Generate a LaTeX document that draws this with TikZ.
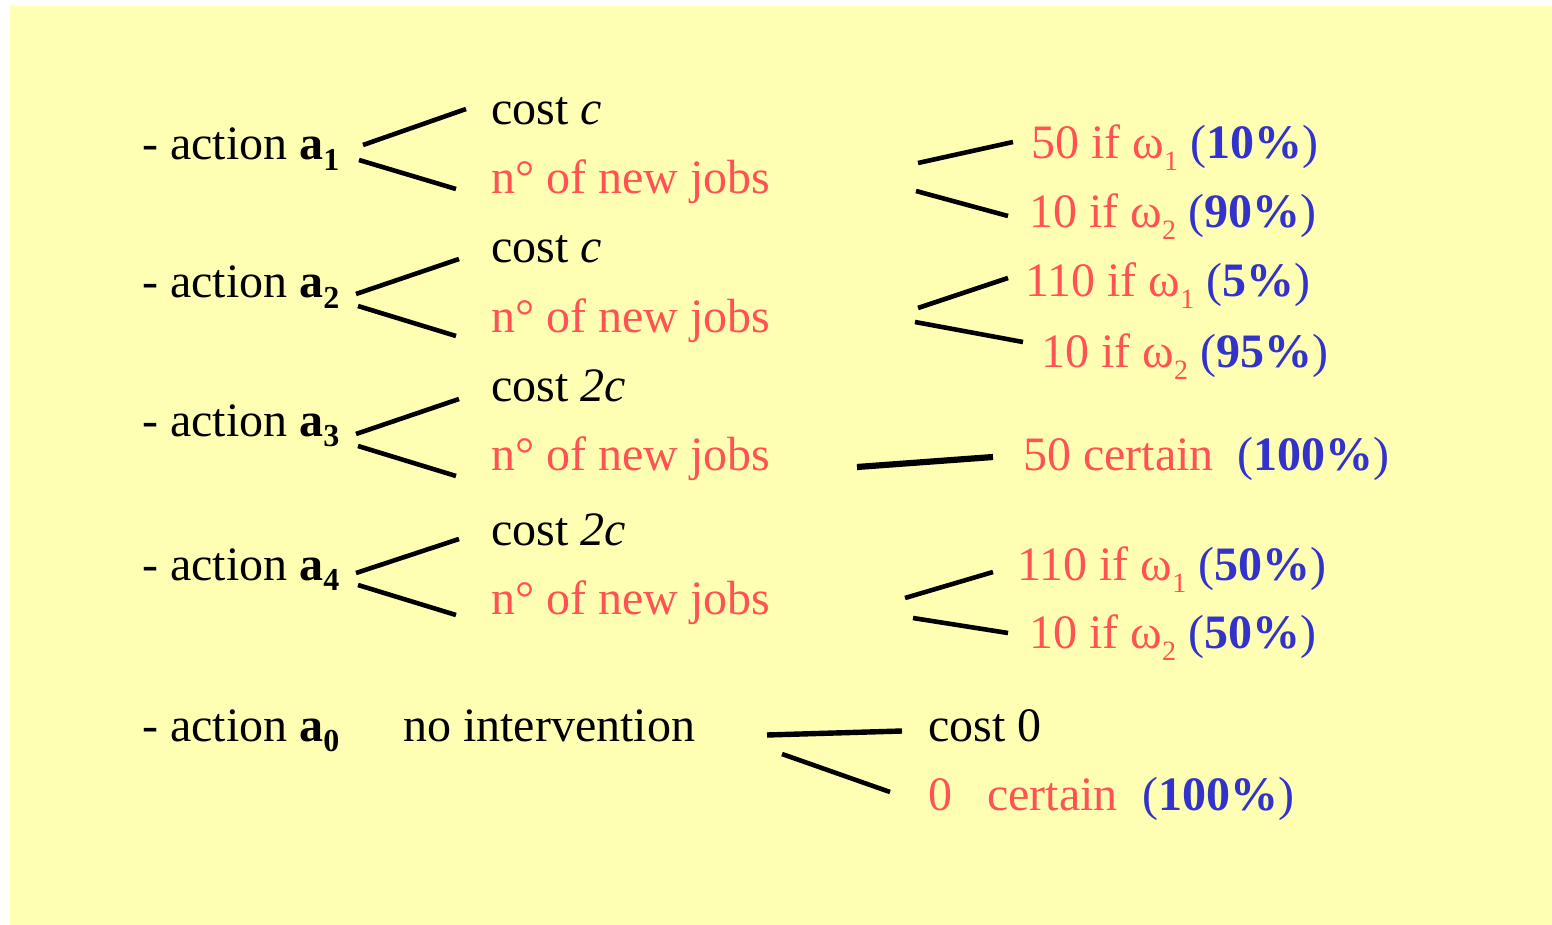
\documentclass[tikz,border=0pt]{standalone}
\usepackage{fontspec}
\setmainfont{Liberation Serif}
\definecolor{bg}{RGB}{255,255,180}
\definecolor{redtxt}{RGB}{255,82,82}
\definecolor{bluetxt}{RGB}{51,51,204}
\newcommand{\bsub}[1]{\raisebox{-0.22em}{\fontsize{32}{32}\selectfont\bfseries #1}}
\newcommand{\om}[1]{ω\raisebox{-0.25em}{\fontsize{28}{28}\selectfont #1}}
\newcommand{\pct}[1]{{\color{bluetxt}(\textbf{#1\%})}}
\tikzset{
  txt/.style={anchor=base west, inner sep=0pt, font=\fontsize{48}{48}\selectfont},
  red/.style={txt, text=redtxt},
  branch/.style={line width=4.6pt, black},
}
\begin{document}
\begin{tikzpicture}[x=1pt, y=-1pt]
\useasboundingbox (0,0) rectangle (1552,925);
\fill[bg] (10,6) rectangle (1552,925);

% action labels
\node[txt] (act1) at (142,160) {- action \textbf{a}\bsub{1}};
\node[txt] (act2) at (142,298) {- action \textbf{a}\bsub{2}};
\node[txt] (act3) at (142,436) {- action \textbf{a}\bsub{3}};
\node[txt] (act4) at (142,580) {- action \textbf{a}\bsub{4}};
\node[txt] (act0) at (142,741) {- action \textbf{a}\bsub{0}};
\node[txt] (noint) at (403,741) {no intervention};

% cost / jobs
\node[txt] (cost1) at (491,125) {cost \textit{c}};
\node[red] (jobs1) at (491,194) {n° of new jobs};
\node[txt] (cost2) at (491,263) {cost \textit{c}};
\node[red] (jobs2) at (491,332) {n° of new jobs};
\node[txt] (cost3) at (491,401) {cost \textit{2c}};
\node[red] (jobs3) at (491,470) {n° of new jobs};
\node[txt] (cost4) at (491,545) {cost \textit{2c}};
\node[red] (jobs4) at (491,614) {n° of new jobs};

% outcomes
\node[red] (o11) at (1031,159) {50 if \om{1} \pct{10}};
\node[red] (o12) at (1029,228) {10 if \om{2} \pct{90}};
\node[red] (o21) at (1025,297) {110 if \om{1} \pct{5}};
\node[red] (o22) at (1041,367) {10 if \om{2} \pct{95}};
\node[red] (o31) at (1023,470) {50 certain\hspace{24pt}\pct{100}};
\node[red] (o41) at (1017,580) {110 if \om{1} \pct{50}};
\node[red] (o42) at (1029,648) {10 if \om{2} \pct{50}};
\node[txt] (cost0) at (928,741) {cost 0};
\node[red] (o01) at (928,810) {0\hspace{35pt}certain\hspace{25pt}\pct{100}};

% branch end points
\coordinate (a1s) at (363,145); \coordinate (a1t) at (466,109);
\coordinate (a1u) at (359,160); \coordinate (a1b) at (456,189);
\coordinate (a2s) at (356,294); \coordinate (a2t) at (459,259);
\coordinate (a2u) at (358,306); \coordinate (a2b) at (456,336);
\coordinate (a3s) at (356,434); \coordinate (a3t) at (459,399);
\coordinate (a3u) at (358,446); \coordinate (a3b) at (456,476);
\coordinate (a4s) at (356,573); \coordinate (a4t) at (459,539);
\coordinate (a4u) at (358,585); \coordinate (a4b) at (456,615);

\coordinate (j1s) at (918,163); \coordinate (j1t) at (1013,142);
\coordinate (j1u) at (916,191); \coordinate (j1b) at (1008,216);
\coordinate (j2s) at (918,308); \coordinate (j2t) at (1008,278);
\coordinate (j2u) at (915,322); \coordinate (j2b) at (1023,342);
\coordinate (j3s) at (857,467); \coordinate (j3t) at (993,457);
\coordinate (j4s) at (905,598); \coordinate (j4t) at (993,572);
\coordinate (j4u) at (913,618); \coordinate (j4b) at (1008,633);
\coordinate (n0s) at (767,735); \coordinate (n0t) at (902,731);
\coordinate (n0u) at (782,754); \coordinate (n0b) at (890,792);

% branches
\draw[branch] (a1s) -- (a1t); \draw[branch] (a1u) -- (a1b);
\draw[branch] (a2s) -- (a2t); \draw[branch] (a2u) -- (a2b);
\draw[branch] (a3s) -- (a3t); \draw[branch] (a3u) -- (a3b);
\draw[branch] (a4s) -- (a4t); \draw[branch] (a4u) -- (a4b);
\draw[branch] (j1s) -- (j1t); \draw[branch] (j1u) -- (j1b);
\draw[branch] (j2s) -- (j2t); \draw[branch] (j2u) -- (j2b);
\draw[branch, line width=6.2pt] (j3s) -- (j3t);
\draw[branch] (j4s) -- (j4t); \draw[branch] (j4u) -- (j4b);
\draw[branch, line width=5.4pt] (n0s) -- (n0t); \draw[branch] (n0u) -- (n0b);
\end{tikzpicture}
\end{document}
